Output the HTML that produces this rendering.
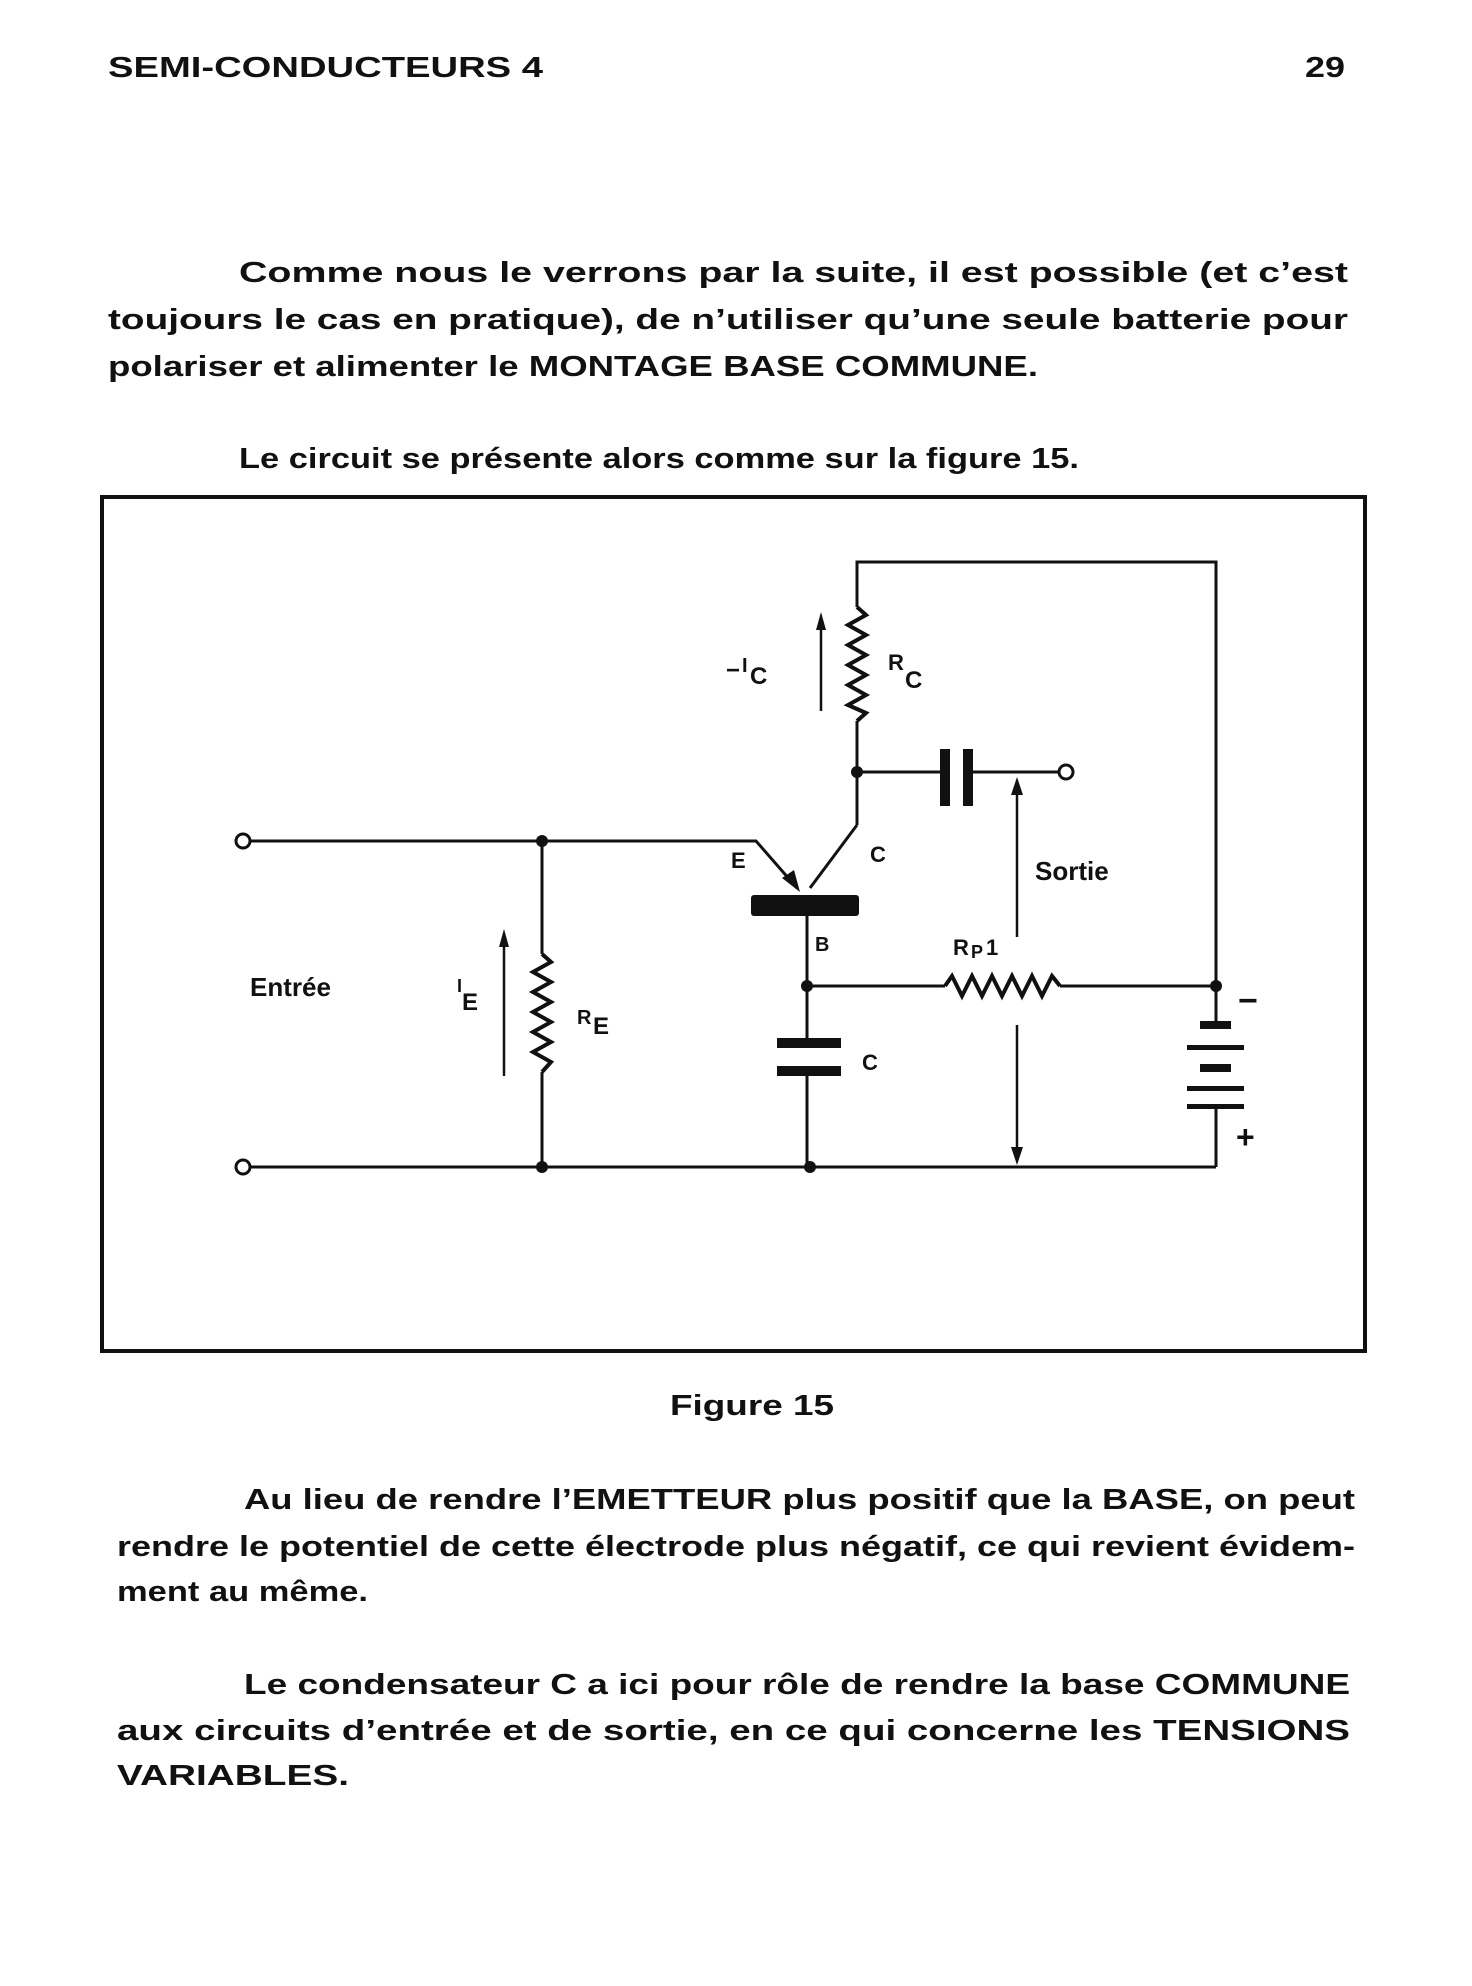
<!DOCTYPE html>
<html><head><meta charset="utf-8"><style>
html,body{margin:0;padding:0;background:#fff}
svg{display:block}
text{font-family:"Liberation Sans",sans-serif;font-weight:bold;fill:#111}
</style></head><body>
<svg width="1472" height="1986" viewBox="0 0 1472 1986" xmlns="http://www.w3.org/2000/svg">
<g font-size="29">
<text x="108" y="77" textLength="435" lengthAdjust="spacingAndGlyphs">SEMI-CONDUCTEURS 4</text>
<text x="1305" y="77" textLength="40" lengthAdjust="spacingAndGlyphs">29</text>
<text x="239" y="282" textLength="1109" lengthAdjust="spacingAndGlyphs">Comme nous le verrons par la suite, il est possible (et c’est</text>
<text x="108" y="329" textLength="1240" lengthAdjust="spacingAndGlyphs">toujours le cas en pratique), de n’utiliser qu’une seule batterie pour</text>
<text x="108" y="376" textLength="930" lengthAdjust="spacingAndGlyphs">polariser et alimenter le MONTAGE BASE COMMUNE.</text>
<text x="239" y="468" textLength="840" lengthAdjust="spacingAndGlyphs">Le circuit se présente alors comme sur la figure 15.</text>
<text x="670" y="1415" textLength="164" lengthAdjust="spacingAndGlyphs">Figure 15</text>
<text x="244" y="1509" textLength="1111" lengthAdjust="spacingAndGlyphs">Au lieu de rendre l’EMETTEUR plus positif que la BASE, on peut</text>
<text x="117" y="1556" textLength="1238" lengthAdjust="spacingAndGlyphs">rendre le potentiel de cette électrode plus négatif, ce qui revient évidem-</text>
<text x="117" y="1601" textLength="251" lengthAdjust="spacingAndGlyphs">ment au même.</text>
<text x="244" y="1694" textLength="1106" lengthAdjust="spacingAndGlyphs">Le condensateur C a ici pour rôle de rendre la base COMMUNE</text>
<text x="117" y="1740" textLength="1233" lengthAdjust="spacingAndGlyphs">aux circuits d’entrée et de sortie, en ce qui concerne les TENSIONS</text>
<text x="117" y="1785" textLength="232" lengthAdjust="spacingAndGlyphs">VARIABLES.</text>
</g>
<rect x="102" y="497" width="1263" height="854" fill="none" stroke="#111" stroke-width="4"/>
<g stroke="#111" stroke-width="3" fill="none">
<polyline points="857,607 857,562 1216,562 1216,1025"/>
<polyline stroke-width="4" points="857,607 866,615 848,625 866,635 848,645 866,655 848,665 866,675 848,685 866,695 848,705 866,713 857,721"/>
<line x1="857" y1="721" x2="857" y2="825"/>
<line x1="857" y1="825" x2="810" y2="888"/>
<line x1="857" y1="772" x2="945" y2="772"/>
<line x1="968" y1="772" x2="1059" y2="772"/>
<polyline points="249,841 756,841 797,888"/>
<line x1="249" y1="1167" x2="1216" y2="1167"/>
<line x1="1216" y1="1107" x2="1216" y2="1167"/>
<line x1="542" y1="841" x2="542" y2="954"/>
<polyline stroke-width="4" points="542,954 551,962 533,972 551,982 533,992 551,1002 533,1012 551,1022 533,1032 551,1042 533,1052 551,1062 542,1072"/>
<line x1="542" y1="1072" x2="542" y2="1167"/>
<line x1="807" y1="916" x2="807" y2="1043"/>
<line x1="807" y1="1070" x2="807" y2="1167"/>
<line x1="807" y1="986" x2="945" y2="986"/>
<polyline stroke-width="4" points="945,986 952,976 962,996 972,976 982,996 992,976 1002,996 1012,976 1022,996 1032,976 1042,996 1052,976 1060,986"/>
<line x1="1060" y1="986" x2="1216" y2="986"/>
<line x1="821" y1="711" x2="821" y2="625" stroke-width="2.5"/>
<line x1="504" y1="1076" x2="504" y2="942" stroke-width="2.5"/>
<line x1="1017" y1="937" x2="1017" y2="790" stroke-width="2.5"/>
<line x1="1017" y1="1025" x2="1017" y2="1150" stroke-width="2.5"/>
</g>
<g fill="#111">
<polygon points="821,612 816,630 826,630"/>
<polygon points="504,929 499,947 509,947"/>
<polygon points="1017,777 1011,795 1023,795"/>
<polygon points="1017,1165 1011,1147 1023,1147"/>
<polygon points="800,892 782,878 794,870"/>
<rect x="751" y="895" width="108" height="21" rx="3"/>
<rect x="940" y="749" width="10" height="57"/>
<rect x="963" y="749" width="10" height="57"/>
<rect x="777" y="1038" width="64" height="10"/>
<rect x="777" y="1066" width="64" height="10"/>
<rect x="1200" y="1021" width="31" height="8"/>
<rect x="1187" y="1045" width="57" height="5"/>
<rect x="1200" y="1064" width="31" height="8"/>
<rect x="1187" y="1086" width="57" height="5"/>
<rect x="1187" y="1104" width="57" height="5"/>
<circle cx="857" cy="772" r="6"/>
<circle cx="542" cy="841" r="6"/>
<circle cx="542" cy="1167" r="6"/>
<circle cx="810" cy="1167" r="6"/>
<circle cx="807" cy="986" r="6"/>
<circle cx="1216" cy="986" r="6"/>
</g>
<g fill="#fff" stroke="#111" stroke-width="3">
<circle cx="243" cy="841" r="7"/>
<circle cx="243" cy="1167" r="7"/>
<circle cx="1066" cy="772" r="7"/>
</g>
<g font-size="24">
<text x="726" y="678">−</text><text x="742" y="672" font-size="20">I</text><text x="750" y="684">C</text>
<text x="888" y="670" font-size="22">R</text><text x="905" y="688">C</text>
<text x="731" y="868" font-size="22">E</text>
<text x="870" y="862" font-size="22">C</text>
<text x="815" y="951" font-size="20">B</text>
<text x="1035" y="880" font-size="26" font-weight="normal">Sortie</text>
<text x="953" y="955" font-size="22">R</text><text x="971" y="958" font-size="18">P</text><text x="986" y="955" font-size="22">1</text>
<text x="250" y="996" font-size="26" font-weight="normal">Entrée</text>
<text x="457" y="992" font-size="18">I</text><text x="462" y="1010">E</text>
<text x="577" y="1024" font-size="20">R</text><text x="593" y="1034">E</text>
<text x="862" y="1070" font-size="22">C</text>
<text x="1238" y="1012" font-size="34" font-weight="normal">−</text>
<text x="1236" y="1148" font-size="32" font-weight="normal">+</text>
</g>
</svg>
</body></html>
